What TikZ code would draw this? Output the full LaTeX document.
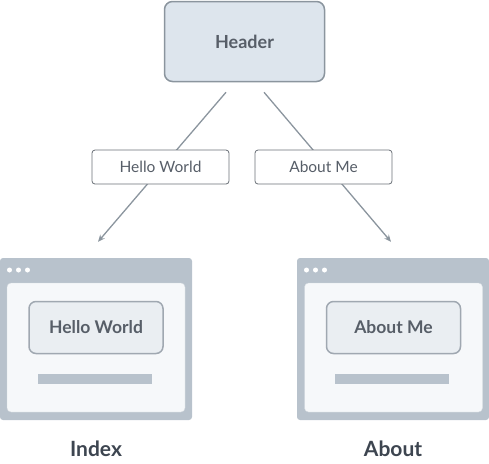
\documentclass[tikz,border=0pt]{standalone}
\usepackage{fontspec}
\setmainfont{Lato}
\usepackage{tikz}
\usetikzlibrary{positioning, arrows.meta, calc}

\definecolor{hdrfill}{HTML}{DDE5ED}
\definecolor{hdrline}{HTML}{8B959E}
\definecolor{txtgray}{HTML}{575E68}
\definecolor{lblline}{HTML}{6B7178}
\definecolor{winframe}{HTML}{B8C2CC}
\definecolor{winbody}{HTML}{F6F8FA}
\definecolor{btnfill}{HTML}{EAEEF2}
\definecolor{btnline}{HTML}{A0A8B1}
\definecolor{pagetxt}{HTML}{3D4550}

\begin{document}
\begin{tikzpicture}[
  x=1pt, y=-1pt,
  >={Stealth[length=7pt, width=6pt]},
  header/.style={draw=hdrline, line width=1.5pt, fill=hdrfill, rounded corners=8pt,
    minimum width=160pt, minimum height=80pt, text=txtgray, font=\fontsize{18}{21}\selectfont\bfseries},
  lbl/.style={draw=lblline, line width=0.8pt, fill=white, rounded corners=3pt,
    minimum width=137pt, minimum height=34pt, text=txtgray, font=\fontsize{15.5}{18}\selectfont},
  window/.style={fill=winframe, rounded corners=3pt, minimum width=192pt, minimum height=162pt, inner sep=0pt},
  body/.style={fill=winbody, draw=winframe!60, line width=0.4pt, rounded corners=4pt,
    minimum width=178pt, minimum height=129pt, inner sep=0pt},
  button/.style={draw=btnline, line width=1.5pt, fill=btnfill, rounded corners=7pt,
    minimum width=134pt, minimum height=52pt, text=txtgray, font=\fontsize{17.5}{20}\selectfont\bfseries},
  bar/.style={fill=winframe, minimum width=114pt, minimum height=10pt, inner sep=0pt},
  dot/.style={circle, fill=white, minimum size=5pt, inner sep=0pt},
  page/.style={text=pagetxt, font=\fontsize{21}{25}\selectfont\bfseries},
  link/.style={->, draw=hdrline, line width=1.3pt}
]
\useasboundingbox (0,0) rectangle (489,463);

% Top: shared header
\node[header] (header) at (244.5, 41.5) {Header};

% Left window: index page
\node[window] (idxwin) at (96, 339) {};
\node[body] (idxbody) at (96, 347.5) {};
\node[button] (idxbtn) at (96, 327.5) {Hello World};
\node[bar] (idxbar) at (95, 379) {};
\node[dot] at (9.5, 270) {};
\node[dot] at (18.5, 270) {};
\node[dot] at (27.5, 270) {};
\node[page] (idx) at (96, 449) {Index};

% Right window: about page
\node[window] (aboutwin) at (393, 339) {};
\node[body] (aboutbody) at (393.5, 347.5) {};
\node[button] (aboutbtn) at (393.5, 327.5) {About Me};
\node[bar] (aboutbar) at (392, 379) {};
\node[dot] at (306.5, 270) {};
\node[dot] at (315.5, 270) {};
\node[dot] at (324.5, 270) {};
\node[page] (about) at (393, 449) {About};

% Link ends
\coordinate (hl) at ($(header.south)+(-18.5,10)$);
\coordinate (hr) at ($(header.south)+(19.5,10)$);
\coordinate (il) at ($(idxwin.north)+(2,-16)$);
\coordinate (ar) at ($(aboutwin.north)+(-2,-16)$);

% Links with their labels
\draw[link] (hl) -- node[lbl, pos=0.5, xshift=-1.5pt] (hw) {Hello World} (il);
\draw[link] (hr) -- node[lbl, pos=0.5, xshift=-4pt] (am) {About Me} (ar);

\end{tikzpicture}
\end{document}
